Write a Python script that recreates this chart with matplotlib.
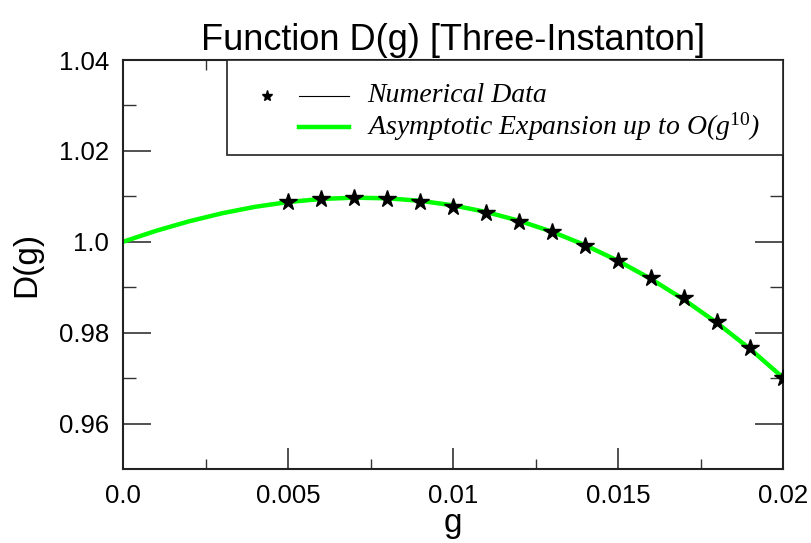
import matplotlib
matplotlib.use("Agg")
from matplotlib import pyplot as plt
from matplotlib.patches import Rectangle
from matplotlib.lines import Line2D

# numerical data (stars)
g_data = [0.005, 0.006, 0.007, 0.008, 0.009, 0.010, 0.011, 0.012,
          0.013, 0.014, 0.015, 0.016, 0.017, 0.018, 0.019, 0.020]
d_data = [1.0088, 1.0095, 1.0097, 1.0095, 1.0088, 1.0077, 1.0064, 1.0044,
          1.0022, 0.9991, 0.9958, 0.9921, 0.9877, 0.9824, 0.9767, 0.9701]

# asymptotic expansion (green curve)
g_curve = [0.0, 0.001, 0.002, 0.003, 0.004, 0.005, 0.006, 0.007, 0.008, 0.009, 0.010,
           0.011, 0.012, 0.013, 0.014, 0.015, 0.016, 0.017, 0.018, 0.019, 0.020]
d_curve = [1.0, 1.00241, 1.00450, 1.00627, 1.00769, 1.00874, 1.00942, 1.00970,
           1.00957, 1.00902, 1.00802, 1.00656, 1.00463, 1.00221, 0.99927, 0.99581,
           0.99181, 0.98726, 0.98214, 0.97643, 0.97010]

x_ticks = [0.0, 0.005, 0.01, 0.015, 0.02]
x_labels = ["0.0", "0.005", "0.01", "0.015", "0.02"]
y_ticks = [0.96, 0.98, 1.0, 1.02, 1.04]
y_labels = ["0.96", "0.98", "1.0", "1.02", "1.04"]

sans = "Liberation Sans"
serif = "Liberation Serif"
plt.rcParams["mathtext.fontset"] = "custom"
plt.rcParams["mathtext.it"] = "Liberation Serif:italic"
plt.rcParams["mathtext.rm"] = "Liberation Serif"

fig = plt.figure(figsize=(8.12, 5.43), dpi=100)
ax = fig.add_axes([0.1515, 0.1363, 0.8128, 0.7532])

ax.plot(g_curve, d_curve, color="#00ff00", lw=3.2, zorder=2)
ax.plot(g_data, d_data, ls="none", marker="*", ms=13, color="black", zorder=3)

ax.set_xlim(0.0, 0.02)
ax.set_ylim(0.95, 1.04)
ax.set_xticks(x_ticks)
ax.set_xticklabels(x_labels, family=sans, fontsize=18.5)
ax.set_yticks(y_ticks)
ax.set_yticklabels(y_labels, family=sans, fontsize=18.5)
ax.set_xticks([0.0025, 0.0075, 0.0125, 0.0175], minor=True)
ax.set_yticks([0.97, 0.99, 1.01, 1.03], minor=True)
ax.tick_params(which="both", direction="in", top=True, right=True, color="#333333")
ax.tick_params(axis="x", which="major", length=15, width=1.2, pad=11)
ax.tick_params(axis="x", which="minor", length=7.5, width=1.0)
ax.tick_params(axis="y", which="major", length=20, width=1.2, pad=10)
ax.tick_params(axis="y", which="minor", length=9.5, width=1.0)
for s in ax.spines.values():
    s.set_linewidth(1.5)
    s.set_color("#222222")

ax.set_xlabel("g", family=sans, fontsize=24, labelpad=0)
ax.set_ylabel("D(g)", family=sans, fontsize=24, labelpad=12)
ax.set_title("Function D(g) [Three-Instanton]", family=sans, fontsize=26, pad=7)

# legend box drawn by hand, as in the original
ax.add_patch(Rectangle((0.158, 0.768), 0.842, 0.232, transform=ax.transAxes,
                       facecolor="white", edgecolor="#222222", lw=1.2, zorder=4))
ax.add_line(Line2D([0.218], [0.912], transform=ax.transAxes, marker="*", ms=8,
                   color="black", ls="none", zorder=5))
ax.add_line(Line2D([0.267, 0.342], [0.912, 0.912], transform=ax.transAxes,
                   color="black", lw=0.8, zorder=5))
ax.add_line(Line2D([0.267, 0.342], [0.836, 0.836], transform=ax.transAxes,
                   color="#00ff00", lw=3.2, zorder=5))
ax.text(0.370, 0.912, "Numerical Data", transform=ax.transAxes, family=serif,
        style="italic", fontsize=20, va="center", zorder=6)
ax.text(0.370, 0.836, r"Asymptotic Expansion up to O(g$^{\mathit{10}}$)",
        transform=ax.transAxes, family=serif, style="italic", fontsize=20,
        va="center", zorder=6)

fig.savefig("out.png", dpi=100)
